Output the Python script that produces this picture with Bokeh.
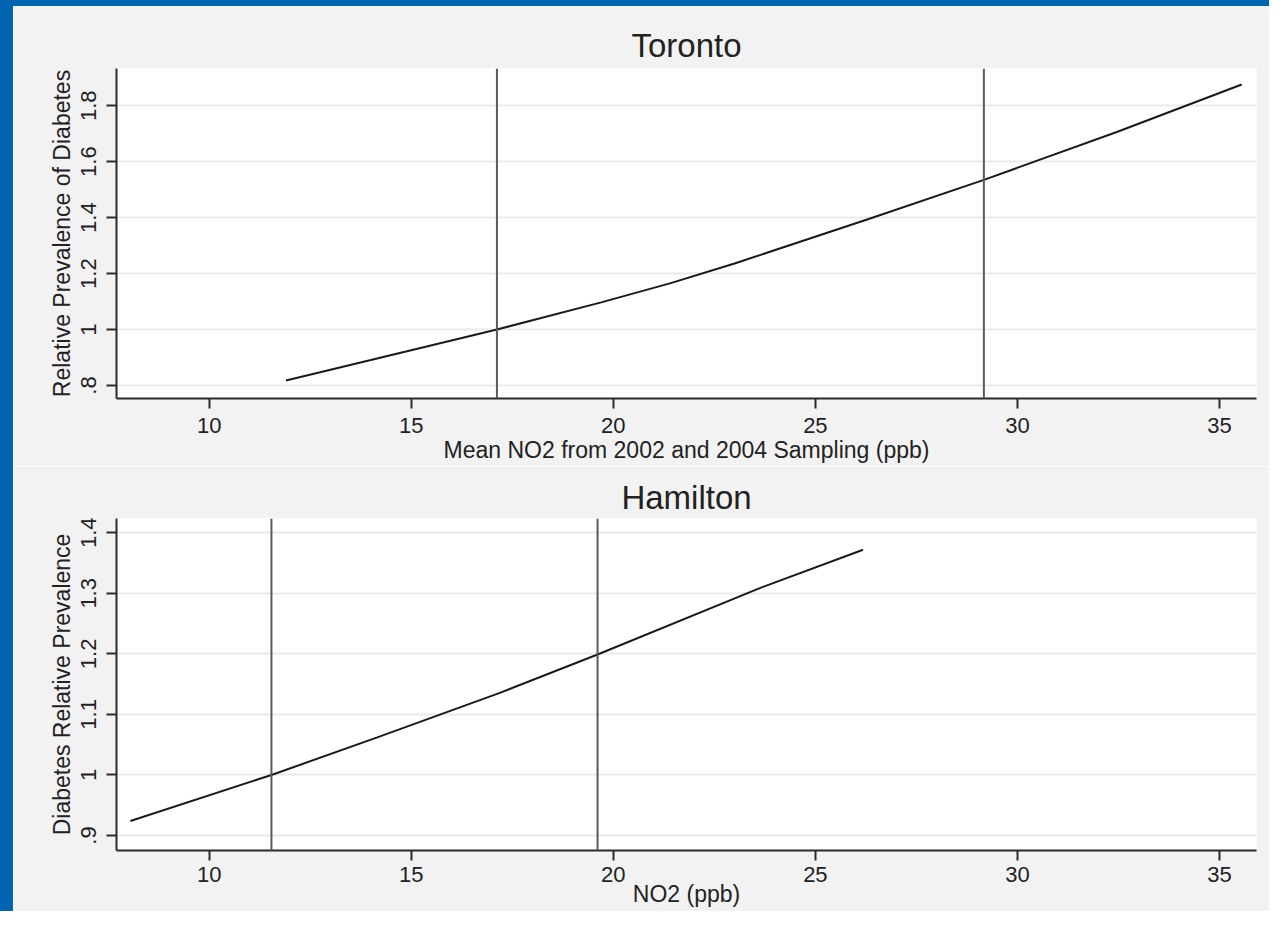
from bokeh.plotting import figure
from bokeh.models import Span, FixedTicker, Range1d, Spacer
from bokeh.layouts import column, row
from bokeh.embed import file_html
from bokeh.resources import INLINE

# ---- data ----
toronto_x = [11.9, 14.0, 17.12, 19.7, 21.4, 23.0, 26.3, 29.17, 32.46, 35.55]
toronto_y = [0.818, 0.891, 1.0, 1.097, 1.165, 1.236, 1.394, 1.535, 1.706, 1.876]
toronto_vlines = [17.12, 29.17]
toronto_yticks = [0.8, 1.0, 1.2, 1.4, 1.6, 1.8]
toronto_ylabels = [".8", "1", "1.2", "1.4", "1.6", "1.8"]

hamilton_x = [8.05, 11.54, 14.16, 17.21, 19.61, 23.64, 26.18]
hamilton_y = [0.924, 1.0, 1.062, 1.136, 1.199, 1.309, 1.372]
hamilton_vlines = [11.54, 19.61]
hamilton_yticks = [0.9, 1.0, 1.1, 1.2, 1.3, 1.4]
hamilton_ylabels = [".9", "1", "1.1", "1.2", "1.3", "1.4"]

x_ticks = [10, 15, 20, 25, 30, 35]
x_labels = ["10", "15", "20", "25", "30", "35"]

FONT = "Liberation Sans"
PANEL = "#F2F2F2"
TXT = "#222222"
BLUE = "#0065B0"


def panel(title, xs, ys, vlines, yticks, ylabels, xlabel, ylabel,
          yrange, height, btop, bbot, tstand, xl_stand, xt_stand):
    p = figure(width=1256, height=height, output_backend="svg",
               toolbar_location=None, x_range=Range1d(7.706, 35.916),
               y_range=Range1d(*yrange),
               min_border_left=103, min_border_right=13,
               min_border_top=btop, min_border_bottom=bbot)
    p.background_fill_color = "white"
    p.border_fill_color = PANEL
    p.outline_line_color = None

    p.title.text = title
    p.title.align = "center"
    p.title.text_font = FONT
    p.title.text_font_size = "33px"
    p.title.text_font_style = "normal"
    p.title.text_color = TXT
    p.title.standoff = tstand

    p.line(xs, ys, line_color="#1a1a1a", line_width=2)
    for v in vlines:
        p.add_layout(Span(location=v, dimension="height",
                          line_color="#5a5a5a", line_width=2))

    p.xaxis.ticker = FixedTicker(ticks=x_ticks)
    p.xaxis.major_label_overrides = dict(zip(x_ticks, x_labels))
    p.yaxis.ticker = FixedTicker(ticks=yticks)
    p.yaxis.major_label_overrides = dict(zip(yticks, ylabels))
    p.yaxis.major_label_orientation = "vertical"

    for ax in (p.xaxis[0], p.yaxis[0]):
        ax.axis_line_color = "#2a2a2a"
        ax.axis_line_width = 2
        ax.major_tick_line_color = "#2a2a2a"
        ax.major_tick_line_width = 2
        ax.major_tick_out = 10
        ax.major_tick_in = 0
        ax.minor_tick_line_color = None
        ax.major_label_text_font = FONT
        ax.major_label_text_font_size = "22px"
        ax.major_label_text_color = TXT
        ax.axis_label_text_font = FONT
        ax.axis_label_text_font_size = "23px"
        ax.axis_label_text_font_style = "normal"
        ax.axis_label_text_color = TXT
    p.xaxis.major_label_standoff = xl_stand
    p.xaxis.axis_label_standoff = xt_stand
    p.yaxis.major_label_standoff = 10
    p.yaxis.axis_label_standoff = 4
    p.xaxis.axis_label = xlabel
    p.yaxis.axis_label = ylabel

    p.xgrid.grid_line_color = None
    p.ygrid.ticker = FixedTicker(ticks=yticks)
    p.ygrid.grid_line_color = "#EAEAEA"
    p.ygrid.grid_line_width = 2
    return p


p1 = panel("Toronto", toronto_x, toronto_y, toronto_vlines, toronto_yticks,
           toronto_ylabels, "Mean NO2 from 2002 and 2004 Sampling (ppb)",
           "Relative Prevalence of Diabetes", (0.7535, 1.933), 460, 62, 68, 9,
           9, 1)
p2 = panel("Hamilton", hamilton_x, hamilton_y, hamilton_vlines, hamilton_yticks,
           hamilton_ylabels, "NO2 (ppb)", "Diabetes Relative Prevalence",
           (0.8752, 1.4236), 445, 52, 61, 5, 6, -4)

top = Spacer(width=1269, height=6, styles={"background-color": BLUE})
left = Spacer(width=13, height=905, styles={"background-color": BLUE})
layout = column(top, row(left, column(p1, p2)))

open("out.html", "w").write(file_html(layout, INLINE))
